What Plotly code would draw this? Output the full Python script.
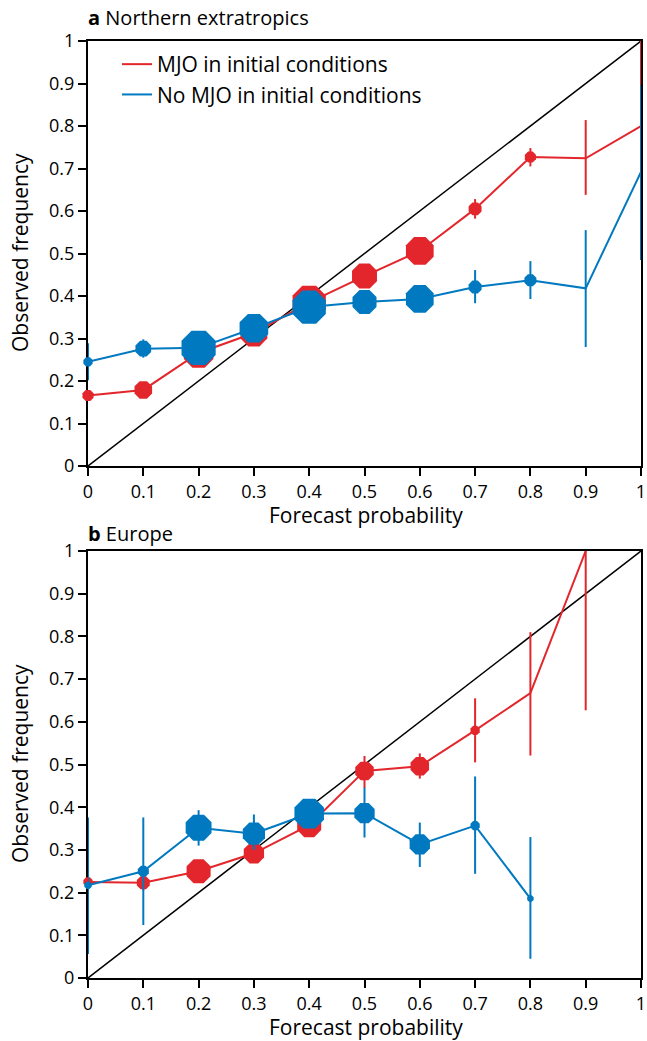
import plotly.graph_objects as go

# ---------------- data ----------------
prob = [0, 0.1, 0.2, 0.3, 0.4, 0.5, 0.6, 0.7, 0.8, 0.9, 1.0]
tick_vals = [0, 0.1, 0.2, 0.3, 0.4, 0.5, 0.6, 0.7, 0.8, 0.9, 1.0]
tick_text = ["0", "0.1", "0.2", "0.3", "0.4", "0.5", "0.6", "0.7", "0.8", "0.9", "1"]

# Panel a: Northern extratropics
a_mjo = [0.166, 0.179, 0.266, 0.313, 0.385, 0.447, 0.506, 0.605, 0.727, 0.724, 0.80]
a_mjo_lo = [0.166, 0.179, 0.266, 0.313, 0.385, 0.447, 0.506, 0.582, 0.705, 0.638, 0.62]
a_mjo_hi = [0.166, 0.179, 0.266, 0.313, 0.385, 0.447, 0.506, 0.628, 0.748, 0.814, 1.0]
a_mjo_size = [12, 19, 32, 29, 36, 27, 30, 14, 12, 0, 0]

a_nomjo = [0.245, 0.276, 0.278, 0.324, 0.374, 0.386, 0.393, 0.421, 0.437, 0.418, 0.692]
a_nomjo_lo = [0.202, 0.255, 0.278, 0.324, 0.374, 0.386, 0.393, 0.383, 0.393, 0.28, 0.485]
a_nomjo_hi = [0.289, 0.298, 0.278, 0.324, 0.374, 0.386, 0.393, 0.461, 0.482, 0.555, 0.896]
a_nomjo_size = [10, 17, 37, 31, 36, 26, 30, 14, 13, 0, 0]

# Panel b: Europe
b_prob = [0, 0.1, 0.2, 0.3, 0.4, 0.5, 0.6, 0.7, 0.8, 0.9]
b_mjo = [0.225, 0.223, 0.250, 0.292, 0.358, 0.485, 0.496, 0.580, 0.667, 1.0]
b_mjo_lo = [0.225, 0.205, 0.250, 0.292, 0.345, 0.445, 0.467, 0.505, 0.521, 0.627]
b_mjo_hi = [0.225, 0.240, 0.250, 0.292, 0.380, 0.520, 0.526, 0.655, 0.810, 1.0]
b_mjo_size = [10, 14, 26, 22, 26, 20, 20, 10, 0, 0]

b_nomjo_prob = [0, 0.1, 0.2, 0.3, 0.4, 0.5, 0.6, 0.7, 0.8]
b_nomjo = [0.217, 0.250, 0.352, 0.338, 0.385, 0.386, 0.313, 0.357, 0.186]
b_nomjo_lo = [0.056, 0.124, 0.310, 0.300, 0.385, 0.329, 0.260, 0.244, 0.045]
b_nomjo_hi = [0.376, 0.376, 0.393, 0.383, 0.385, 0.446, 0.364, 0.472, 0.330]
b_nomjo_size = [8, 12, 28, 24, 32, 22, 22, 10, 7]

RED = "#E3262C"
BLUE = "#0079C0"
FONT = "Open Sans"

fig = go.Figure()


def add_series(x, y, lo, hi, size, color, xa, ya):
    fig.add_trace(go.Scatter(
        x=x, y=y, mode="lines+markers", xaxis=xa, yaxis=ya, showlegend=False,
        line=dict(color=color, width=2),
        marker=dict(symbol="octagon", size=size, color=color, opacity=1, line=dict(width=0)),
        error_y=dict(type="data", symmetric=False,
                     array=[h - v for h, v in zip(hi, y)],
                     arrayminus=[v - l for v, l in zip(y, lo)],
                     color=color, thickness=2, width=0),
        cliponaxis=False,
    ))


for xa, ya in [("x", "y"), ("x2", "y2")]:
    fig.add_trace(go.Scatter(x=[0, 1], y=[0, 1], mode="lines", xaxis=xa, yaxis=ya,
                             showlegend=False, line=dict(color="black", width=1.5),
                             hoverinfo="skip"))

add_series(prob, a_mjo, a_mjo_lo, a_mjo_hi, a_mjo_size, RED, "x", "y")
add_series(prob, a_nomjo, a_nomjo_lo, a_nomjo_hi, a_nomjo_size, BLUE, "x", "y")
add_series(b_prob, b_mjo, b_mjo_lo, b_mjo_hi, b_mjo_size, RED, "x2", "y2")
add_series(b_nomjo_prob, b_nomjo, b_nomjo_lo, b_nomjo_hi, b_nomjo_size, BLUE, "x2", "y2")

# legend-only traces
fig.add_trace(go.Scatter(x=[None], y=[None], mode="lines", name="MJO in initial conditions",
                         legendgroup="g1",
                         line=dict(color=RED, width=2), xaxis="x", yaxis="y"))
fig.add_trace(go.Scatter(x=[None], y=[None], mode="lines", name="No MJO in initial conditions",
                         legendgroup="g2",
                         line=dict(color=BLUE, width=2), xaxis="x", yaxis="y"))

W, H = 647, 1041
L, R = 88, 6
axis_common = dict(range=[0, 1], showline=True, linecolor="black", linewidth=2, mirror=True,
                   ticks="outside", ticklen=8, tickwidth=2, tickcolor="black",
                   tickvals=tick_vals, ticktext=tick_text, showgrid=False, zeroline=False,
                   ticklabeloverflow="allow", layer="below traces", automargin=False,
                   tickfont=dict(family=FONT, size=18, color="black"), fixedrange=True)

top_dom = [1 - 466 / H, 1 - 41 / H]
bot_dom = [1 - 978 / H, 1 - 551 / H]


def px_x(p):
    return (p - L) / (W - L - R)


fig.update_layout(
    width=W, height=H,
    margin=dict(l=L, r=R, t=0, b=0, autoexpand=False),
    paper_bgcolor="white", plot_bgcolor="white",
    font=dict(family=FONT, color="black"),
    xaxis=dict(axis_common, domain=[0, 1], anchor="y"),
    yaxis=dict(axis_common, domain=top_dom, anchor="x"),
    xaxis2=dict(axis_common, domain=[0, 1], anchor="y2"),
    yaxis2=dict(axis_common, domain=bot_dom, anchor="x2"),
    legend=dict(x=px_x(117), y=1 - 44 / H, xref="paper", yref="paper",
                xanchor="left", yanchor="top", bgcolor="rgba(0,0,0,0)",
                font=dict(family=FONT, size=21, color="black"), tracegroupgap=0),
)

ann = []
ann.append(dict(text="<b>a</b> Northern extratropics", x=px_x(86), y=1 - 18 / H,
                xref="paper", yref="paper", xanchor="left", yanchor="middle",
                showarrow=False, font=dict(family=FONT, size=20)))
ann.append(dict(text="<b>b</b> Europe", x=px_x(86), y=1 - 533 / H,
                xref="paper", yref="paper", xanchor="left", yanchor="middle",
                showarrow=False, font=dict(family=FONT, size=20)))
for yc in [515, 1027]:
    ann.append(dict(text="Forecast probability", x=px_x(366), y=1 - yc / H,
                    xref="paper", yref="paper", xanchor="center", yanchor="middle",
                    showarrow=False, font=dict(family=FONT, size=21)))
for yc in [253, 764]:
    ann.append(dict(text="Observed frequency", x=px_x(20), y=1 - yc / H, textangle=-90,
                    xref="paper", yref="paper", xanchor="center", yanchor="middle",
                    showarrow=False, font=dict(family=FONT, size=21)))
fig.update_layout(annotations=ann)

fig.write_html("out.html")
